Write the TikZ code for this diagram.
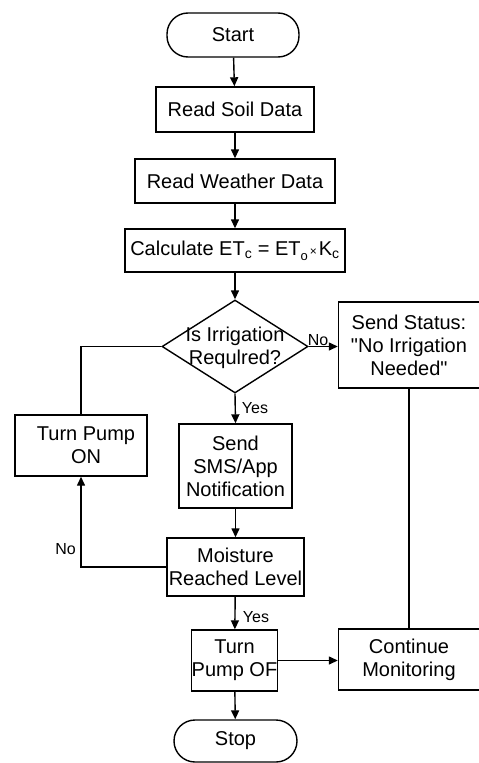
\documentclass[tikz,border=0pt]{standalone}
\usepackage{fontspec}
\setmainfont{Liberation Sans}[Ligatures=TeXOff]
\usetikzlibrary{arrows.meta,shapes.geometric}
\begin{document}
\begin{tikzpicture}[x=1pt,y=-1pt,
  line width=1.4pt,
  box/.style={draw, rectangle, inner sep=0pt, align=center, font=\fontsize{20}{23}\selectfont},
  term/.style={box, rounded corners=21pt},
  txt/.style={inner sep=0pt, align=center, font=\fontsize{20}{23}\selectfont},
  lbl/.style={font=\fontsize{16}{18}\selectfont, inner sep=0pt},
  arr/.style={-{Triangle[length=9pt,width=8pt]}},
]
\useasboundingbox (0,0) rectangle (479,763);
\node[term, minimum width=132pt, minimum height=44pt] (start) at (233,35) {Start};
\node[box, minimum width=158pt, minimum height=45pt] (soil) at (235,109.5) {Read Soil Data};
\node[box, minimum width=200pt, minimum height=44pt] (weather) at (235,181) {Read Weather Data};
\node[box, minimum width=220pt, minimum height=43pt] (calc) at (235,250.5) {Calculate ET\textsubscript{c} = ET\raisebox{-5pt}{\fontsize{13}{13}\selectfont o}{\fontsize{12}{12}\selectfont\,×\,}K\textsubscript{c}};
\node[draw, diamond, minimum width=146pt, minimum height=93pt, inner sep=0pt] (dec) at (235,346.5) {};
\node[txt] (dectext) at (235,348) {Is Irrigation\\Requlred?};
\node[box, minimum width=141pt, minimum height=86pt] (status) at (409,345) {Send Status:\\"No Irrigation\\Needed"};
\node[box, minimum width=113pt, minimum height=84pt] (sms) at (235.5,466) {Send\\SMS/App\\Notification};
\node[box, minimum width=132pt, minimum height=61pt] (pumpon) at (81,445.5) {\hspace*{10pt}Turn Pump\\\hspace*{10pt}ON};
\node[box, minimum width=137pt, minimum height=58pt] (moist) at (235.5,567) {Moisture\\Reached Level};
\node[box, minimum width=85pt, minimum height=61pt] (pumpoff) at (234.5,660.5) {Turn\\Pump OF};
\node[box, minimum width=141pt, minimum height=61pt] (cont) at (409,659.5) {Continue\\Monitoring};
\node[term, minimum width=123pt, minimum height=42pt] (stop) at (235.5,741) {Stop};

\draw[arr] (start) -- (soil);
\draw[arr] (soil) -- (weather);
\draw[arr] (weather) -- (calc);
\draw[arr] (calc) -- (dec);
\draw[arr] (dec.east) -- (dec.east -| status.west);
\draw[arr] (dec.south) -- (sms.north);
\draw[arr] (sms) -- (moist);
\draw[arr] (moist) -- (pumpoff);
\draw[arr] (pumpoff) -- (stop);
\draw[arr] (pumpoff.east) -- (pumpoff.east -| cont.west);
\draw (status.south) -- (cont.north);
\draw (dec.west) -| (pumpon.north);
\draw[arr] (moist.west) -| (pumpon.south);

\node[lbl] (lno1) at (318,340) {No};
\node[lbl] (lyes1) at (255,408) {Yes};
\node[lbl] (lno2) at (65.5,549) {No};
\node[lbl] (lyes2) at (256,617.5) {Yes};
\end{tikzpicture}
\end{document}
